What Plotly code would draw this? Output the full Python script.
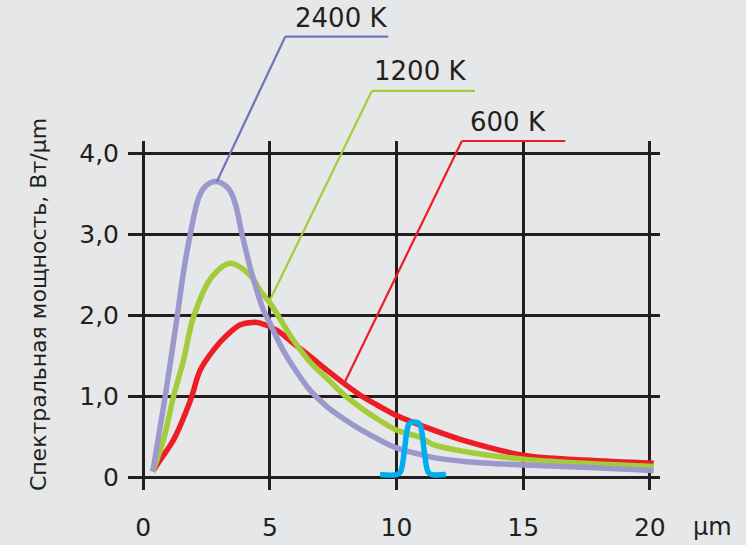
import plotly.graph_objects as go

# ---- data ----
x_2400 = [0.38, 0.67, 0.87, 1.35, 1.6, 1.86, 2.18, 2.45, 2.88, 3.37, 3.63, 3.9, 4.29, 4.75, 5.0, 5.5, 5.93, 6.59, 7.25, 7.91, 8.57, 10.0, 10.93, 11.46, 12.78, 15.0, 17.4, 20.15]
y_2400 = [0.07, 0.62, 1.0, 2.0, 2.55, 3.0, 3.44, 3.59, 3.65, 3.56, 3.38, 3.0, 2.51, 2.06, 1.90, 1.58, 1.36, 1.07, 0.87, 0.72, 0.59, 0.36, 0.28, 0.24, 0.19, 0.15, 0.12, 0.08]

x_1200 = [0.38, 0.8, 1.2, 1.59, 1.99, 2.71, 3.43, 4.16, 4.69, 5.0, 5.93, 6.59, 7.25, 7.91, 8.57, 9.23, 10.0, 10.93, 11.46, 12.78, 15.0, 17.4, 20.15]
y_1200 = [0.07, 0.46, 1.0, 1.44, 1.98, 2.47, 2.64, 2.51, 2.27, 2.15, 1.69, 1.42, 1.22, 1.02, 0.86, 0.72, 0.58, 0.49, 0.40, 0.31, 0.22, 0.17, 0.13]

x_600 = [0.38, 0.67, 1.2, 1.72, 1.92, 2.25, 2.78, 3.3, 3.83, 4.3, 4.62, 5.28, 5.93, 6.59, 7.25, 7.91, 8.57, 9.23, 10.0, 11.46, 12.78, 15.0, 17.4, 20.15]
y_600 = [0.07, 0.21, 0.46, 0.83, 1.0, 1.32, 1.57, 1.75, 1.88, 1.91, 1.90, 1.81, 1.65, 1.49, 1.32, 1.16, 1.01, 0.89, 0.76, 0.58, 0.44, 0.27, 0.21, 0.17]

x_band = [9.35, 10.0, 10.15, 10.3, 10.4, 10.5, 10.7, 10.9, 11.0, 11.1, 11.25, 11.4, 11.95]
y_band = [0.03, 0.03, 0.06, 0.3, 0.55, 0.66, 0.68, 0.66, 0.55, 0.3, 0.06, 0.03, 0.03]

x_ticks = [0, 5, 10, 15, 20]
x_ticktext = ["0", "5", "10", "15", "20"]
y_ticks = [0, 1, 2, 3, 4]
y_ticktext = ["0", "1,0", "2,0", "3,0", "4,0"]

labels = ["2400 K", "1200 K", "600 K"]
# leader lines: tip on curve, elbow, end (data units)
leader_tip = [(2.91, 3.65), (5.01, 2.19), (7.97, 1.18)]
leader_elbow = [(5.61, 5.44), (9.03, 4.77), (12.58, 4.15)]
leader_end_x = [9.67, 13.1, 16.66]
label_pos = [(5.92, 5.67), (9.04, 5.02), (12.83, 4.39)]

# ---- styling ----
BG = "#e6e7e8"
INK = "#231f20"
C_2400 = "#9c98cc"
C_2400_LEAD = "#7672ba"
C_1200 = "#a3cc3a"
C_600 = "#ee1c25"
C_BAND = "#00aeef"
FONT = "DejaVu Sans"

XR = [-0.6, 20.4]
YR = [-0.16, 4.15]


def xp(v):
    return (v - XR[0]) / (XR[1] - XR[0])


def yp(v):
    return (v - YR[0]) / (YR[1] - YR[0])


fig = go.Figure()
for xs, ys, c in [(x_600, y_600, C_600), (x_1200, y_1200, C_1200), (x_2400, y_2400, C_2400), (x_band, y_band, C_BAND)]:
    fig.add_trace(go.Scatter(x=xs, y=ys, mode="lines",
                             line=dict(color=c, width=5.5, shape="spline", smoothing=1.0),
                             showlegend=False, hoverinfo="skip"))

lead_colors = [C_2400_LEAD, C_1200, C_600]
shapes = []
annotations = []
for i in range(3):
    tx, ty = leader_tip[i]
    ex, ey = leader_elbow[i]
    shapes.append(dict(type="line", xref="paper", yref="paper",
                       x0=xp(tx), y0=yp(ty), x1=xp(ex), y1=yp(ey),
                       line=dict(color=lead_colors[i], width=2.2)))
    shapes.append(dict(type="line", xref="paper", yref="paper",
                       x0=xp(ex), y0=yp(ey), x1=xp(leader_end_x[i]), y1=yp(ey),
                       line=dict(color=lead_colors[i], width=2.2)))
    lx, ly = label_pos[i]
    annotations.append(dict(text=labels[i], xref="paper", yref="paper",
                            x=xp(lx), y=yp(ly), xanchor="left", yanchor="middle",
                            showarrow=False, font=dict(family=FONT, size=26, color=INK)))

annotations.append(dict(text="Спектральная мощность, Вт/μm", xref="paper", yref="paper",
                        x=-0.169, y=0.53, textangle=-90, showarrow=False,
                        xanchor="center", yanchor="middle",
                        font=dict(family=FONT, size=22, color=INK)))
annotations.append(dict(text="μm", xref="paper", yref="paper",
                        x=1.098, y=-0.106, showarrow=False,
                        xanchor="center", yanchor="middle",
                        font=dict(family=FONT, size=24, color=INK)))

fig.update_layout(
    width=746, height=545,
    margin=dict(l=128, r=86, t=141, b=55, autoexpand=False),
    paper_bgcolor=BG, plot_bgcolor=BG,
    shapes=shapes, annotations=annotations,
    showlegend=False,
)
fig.update_xaxes(range=XR, tickvals=x_ticks, ticktext=x_ticktext, automargin=False,
                 showgrid=True, gridcolor=INK, gridwidth=2.5, zeroline=False,
                 showline=False, ticks="", ticklabelstandoff=20,
                 tickfont=dict(family=FONT, size=25, color=INK), layer="below traces")
fig.update_yaxes(range=YR, tickvals=y_ticks, ticktext=y_ticktext, automargin=False,
                 showgrid=True, gridcolor=INK, gridwidth=2.5, zeroline=False,
                 showline=False, ticks="", ticklabelstandoff=8,
                 tickfont=dict(family=FONT, size=25, color=INK), layer="below traces")

fig.write_html("out.html", config={"displayModeBar": False},
               post_script="document.body.style.margin='0px';document.body.style.overflow='hidden';document.body.style.background='#e6e7e8';")
